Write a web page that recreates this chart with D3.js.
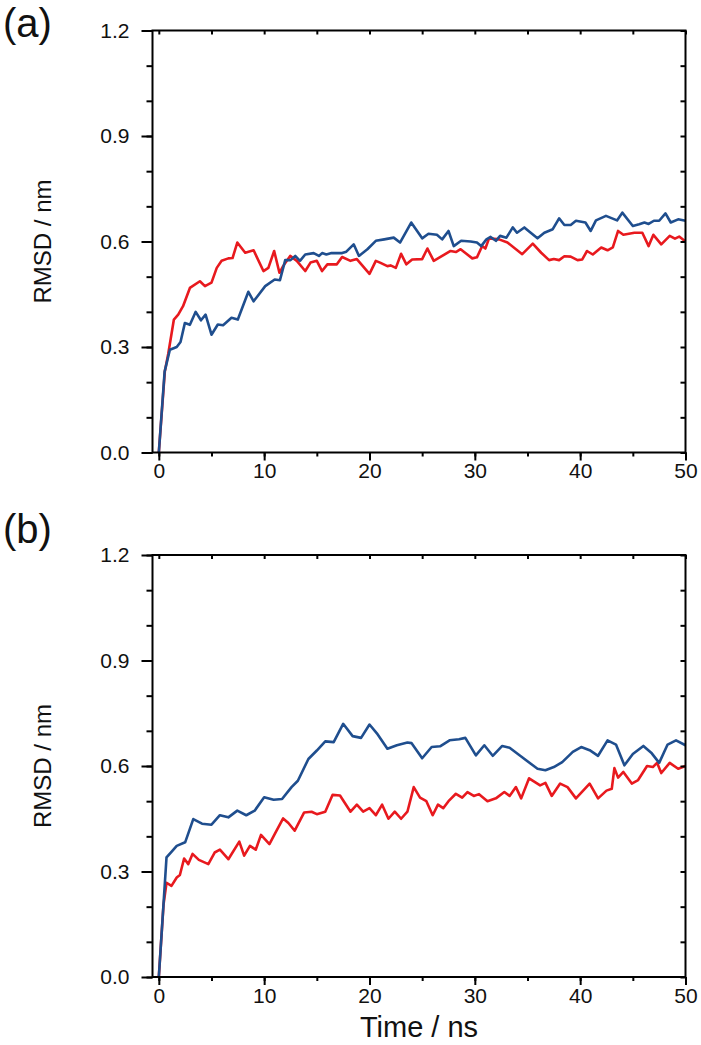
<!DOCTYPE html>
<html><head><meta charset="utf-8">
<script src="https://cdn.jsdelivr.net/npm/d3@7"></script>
<style>
html,body{margin:0;padding:0;background:#fff;}
svg{display:block;font-family:"Liberation Sans",Arial,sans-serif;}
</style></head>
<body><svg id="c" width="701" height="1045"></svg>
<script>
// ---------- data ----------
const panelLabels = ["(a)", "(b)"];
const xTickValues = [0, 10, 20, 30, 40, 50];
const yTickValues = [0.0, 0.3, 0.6, 0.9, 1.2];
const xTitle = "Time / ns";
const yTitle = "RMSD / nm";

const timeARed = [0,0.57,0.89,1.43,1.84,2.3,2.95,3.9,4.38,5.0,5.5,5.96,6.6,7.0,7.45,8.2,9.0,9.93,10.4,10.95,11.45,11.8,12.47,13.1,13.9,14.4,15.0,15.5,16.0,16.9,17.4,18.2,18.8,20.0,20.6,21.0,21.7,22.0,22.5,23.0,23.5,24.05,25.0,25.5,26.1,26.9,27.7,28.2,28.65,29.76,30.2,30.7,31.0,31.35,32.3,33.1,34.5,35.5,36.3,37.05,37.5,38.0,38.5,39.1,39.75,40.2,40.65,41.2,42.0,42.6,43.1,43.6,44.1,45.15,45.9,46.5,46.95,47.7,48.5,49.0,49.4,50];
const rmsdARed = [0,0.23,0.28,0.378,0.392,0.416,0.468,0.487,0.473,0.483,0.525,0.545,0.552,0.553,0.597,0.568,0.575,0.516,0.525,0.573,0.511,0.53,0.559,0.545,0.516,0.54,0.545,0.516,0.535,0.535,0.556,0.545,0.55,0.508,0.545,0.54,0.53,0.532,0.525,0.565,0.535,0.549,0.55,0.58,0.545,0.559,0.573,0.57,0.578,0.552,0.555,0.587,0.58,0.609,0.606,0.597,0.564,0.594,0.568,0.547,0.55,0.547,0.558,0.557,0.547,0.549,0.573,0.563,0.583,0.575,0.583,0.63,0.619,0.625,0.625,0.587,0.619,0.592,0.616,0.608,0.614,0.6];

const timeABlue = [0,0.55,1.05,1.7,2.06,2.47,2.95,3.5,4.0,4.44,5.0,5.6,6.1,6.9,7.5,8.5,9.0,10.1,11.0,11.5,12.0,12.5,12.95,13.4,13.9,14.7,15.2,15.5,15.9,16.4,17.4,17.8,18.5,19.0,19.8,20.6,21.4,22.3,22.9,23.96,25.0,25.6,26.4,26.9,27.5,28.0,28.7,29.6,30.2,30.6,31.1,31.5,32.0,32.4,33.0,33.6,34.0,34.7,35.1,35.95,36.6,37.4,38.0,38.5,39.1,39.6,40.5,41.0,41.5,42.45,43.5,44.0,45.0,45.6,46.1,46.5,47.0,47.5,48.1,48.6,49.3,50];
const rmsdABlue = [0,0.23,0.292,0.30,0.314,0.368,0.363,0.40,0.376,0.392,0.335,0.364,0.362,0.383,0.378,0.457,0.43,0.473,0.492,0.49,0.547,0.547,0.559,0.545,0.563,0.567,0.559,0.567,0.563,0.567,0.567,0.571,0.592,0.559,0.578,0.602,0.606,0.611,0.597,0.654,0.609,0.622,0.619,0.606,0.63,0.587,0.602,0.600,0.597,0.587,0.606,0.613,0.602,0.616,0.611,0.64,0.625,0.64,0.63,0.609,0.625,0.635,0.666,0.647,0.647,0.659,0.654,0.63,0.66,0.673,0.66,0.682,0.644,0.649,0.654,0.650,0.659,0.659,0.68,0.654,0.663,0.659];

const timeBBlue = [0,0.73,1.2,1.7,2.5,3.27,4.1,5.0,5.8,6.6,7.45,8.3,9.1,10.0,10.9,11.7,12.6,13.2,14.2,15.0,15.8,16.6,17.5,18.4,19.2,20.0,20.7,21.7,22.6,23.6,24.0,25.0,25.9,26.7,27.6,28.5,29.1,30.1,30.9,31.7,32.6,33.3,34.4,35.95,36.7,37.5,38.3,39.3,40.1,40.9,41.7,42.6,43.4,44.2,45.0,46.0,46.8,47.5,48.3,49.1,50];
const rmsdBBlue = [0,0.34,0.356,0.373,0.383,0.449,0.436,0.433,0.46,0.454,0.473,0.46,0.473,0.511,0.504,0.506,0.54,0.558,0.62,0.644,0.67,0.668,0.72,0.685,0.68,0.718,0.693,0.649,0.659,0.667,0.665,0.622,0.654,0.656,0.673,0.676,0.68,0.63,0.659,0.629,0.657,0.652,0.627,0.592,0.588,0.597,0.611,0.64,0.654,0.645,0.629,0.673,0.661,0.602,0.634,0.657,0.636,0.609,0.661,0.673,0.659];

const timeBRed = [0,0.45,0.73,1.2,1.7,2.0,2.4,2.8,3.2,3.8,4.7,5.3,5.8,6.6,7.64,8.1,8.65,9.2,9.7,10.5,11.0,11.8,12.3,12.9,13.8,14.5,15.0,15.8,16.5,17.2,18.2,18.8,19.4,20.0,20.6,21.2,21.8,22.4,23.0,23.6,24.2,24.8,25.4,26.0,26.5,27.0,27.5,28.2,28.8,29.3,29.9,30.4,31.2,32.0,32.8,33.3,33.9,34.4,35.15,36.2,36.7,37.3,38.1,38.8,39.6,40.9,41.7,42.5,43.0,43.25,43.6,44.1,44.9,45.5,46.35,46.9,47.3,47.7,48.5,49.3,50];
const rmsdBRed = [0,0.207,0.268,0.259,0.283,0.29,0.337,0.321,0.35,0.333,0.321,0.354,0.362,0.335,0.385,0.345,0.373,0.362,0.404,0.378,0.406,0.451,0.438,0.416,0.468,0.47,0.463,0.47,0.518,0.516,0.47,0.49,0.47,0.48,0.46,0.49,0.45,0.47,0.45,0.47,0.54,0.51,0.5,0.46,0.49,0.48,0.5,0.521,0.51,0.526,0.515,0.52,0.5,0.508,0.526,0.515,0.54,0.508,0.565,0.545,0.552,0.515,0.55,0.54,0.508,0.55,0.508,0.53,0.535,0.594,0.567,0.583,0.55,0.56,0.6,0.597,0.609,0.58,0.609,0.592,0.6];

// ---------- drawing ----------
const svg = d3.select("#c");
svg.append("rect").attr("width",701).attr("height",1045).attr("fill","#fff");

const RED = "#e8191e", BLUE = "#1f4e8e";
const left = 152.5, right = 685.5;
const x = d3.scaleLinear().domain([-0.6, 50]).range([left, right]);
const FONT = "Liberation Sans, Arial, sans-serif";

const panels = [
  {label: panelLabels[0], top: 30.5, bottom: 452.5, labelY: 37,
   series: [{t: timeARed, v: rmsdARed, c: RED}, {t: timeABlue, v: rmsdABlue, c: BLUE}], showX: false},
  {label: panelLabels[1], top: 555, bottom: 977, labelY: 543,
   series: [{t: timeBRed, v: rmsdBRed, c: RED}, {t: timeBBlue, v: rmsdBBlue, c: BLUE}], showX: true}
];

const minorY = d3.range(0, 13).map(i => i / 10);
const minorX = d3.range(0, 11).map(i => i * 5);

panels.forEach(p => {
  const y = d3.scaleLinear().domain([0, 1.2]).range([p.bottom, p.top]);
  const g = svg.append("g");

  // lines
  p.series.forEach(s => {
    const pts = s.t.map((t, i) => [t, s.v[i]]);
    g.append("path").datum(pts)
      .attr("fill", "none").attr("stroke", s.c).attr("stroke-width", 2.6)
      .attr("stroke-linejoin", "round")
      .attr("d", d3.line().x(d => x(d[0])).y(d => y(d[1])));
  });

  // left minor ticks
  g.append("g").attr("transform", `translate(${left},0)`)
    .call(d3.axisLeft(y).tickValues(minorY).tickSize(6).tickFormat(""))
    .call(a => a.select(".domain").remove());
  // left major ticks with labels
  g.append("g").attr("transform", `translate(${left},0)`)
    .call(d3.axisLeft(y).tickValues(yTickValues).tickSize(11).tickPadding(12).tickFormat(d3.format(".1f")))
    .call(a => a.select(".domain").remove())
    .call(a => a.selectAll("text").attr("font-size", 21).attr("fill", "#111").attr("font-family", FONT));
  // right inward ticks
  g.append("g").attr("transform", `translate(${right},0)`)
    .call(d3.axisRight(y).tickValues(minorY).tickSize(-5).tickFormat(""))
    .call(a => a.select(".domain").remove());
  // top inward ticks
  g.append("g").attr("transform", `translate(0,${p.top})`)
    .call(d3.axisTop(x).tickValues(minorX).tickSize(-4).tickFormat(""))
    .call(a => a.select(".domain").remove());
  // bottom minor
  g.append("g").attr("transform", `translate(0,${p.bottom})`)
    .call(d3.axisBottom(x).tickValues(minorX).tickSize(4).tickFormat(""))
    .call(a => a.select(".domain").remove());
  // bottom major
  g.append("g").attr("transform", `translate(0,${p.bottom})`)
    .call(d3.axisBottom(x).tickValues(xTickValues).tickSize(8).tickPadding(3).tickFormat(d3.format("d")))
    .call(a => a.select(".domain").remove())
    .call(a => a.selectAll("text").attr("font-size", 21).attr("fill", "#111").attr("font-family", FONT));

  g.selectAll(".tick line").attr("stroke", "#000").attr("stroke-width", 2);

  // frame
  g.append("rect").attr("x", left).attr("y", p.top)
    .attr("width", right - left).attr("height", p.bottom - p.top)
    .attr("fill", "none").attr("stroke", "#000").attr("stroke-width", 2);

  // y title
  g.append("text")
    .attr("transform", `translate(43,${(p.top + p.bottom) / 2}) rotate(-90)`)
    .attr("text-anchor", "middle").attr("dy", "0.35em")
    .attr("font-size", 24).attr("fill", "#111").text(yTitle);

  // panel label
  g.append("text").attr("x", 3).attr("y", p.labelY)
    .attr("font-size", 40).attr("fill", "#111").text(p.label);

  if (p.showX) {
    g.append("text").attr("x", (left + right) / 2).attr("y", p.bottom + 60)
      .attr("text-anchor", "middle").attr("font-size", 29).attr("fill", "#111").text(xTitle);
  }
});
</script></body></html>
